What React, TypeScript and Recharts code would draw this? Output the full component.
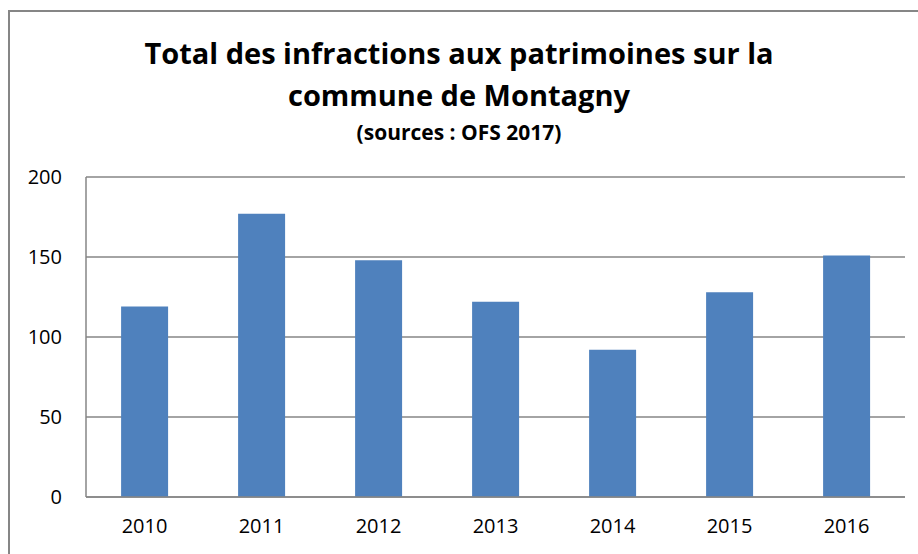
import React from 'react';
import { BarChart, Bar, XAxis, YAxis, CartesianGrid } from 'recharts';

// values
const years = ['2010', '2011', '2012', '2013', '2014', '2015', '2016'];
const totals = [119, 177, 148, 122, 92, 128, 151];
const yTicks = [0, 50, 100, 150, 200];

const data = years.map((year, i) => ({ year, total: totals[i] }));

const FONT = '"Open Sans", Roboto, sans-serif';
const GRID = '#868686';

export default function App() {
  return (
    <div style={{ position: 'absolute', left: 0, top: 0, width: 918, height: 554, background: '#fff', overflow: 'hidden', fontFamily: FONT }}>
      {/* outer frame, only left and top edges show in the crop */}
      <div style={{ position: 'absolute', left: 8, top: 10, width: 920, height: 560, borderLeft: `2px solid ${GRID}`, borderTop: `2px solid ${GRID}` }} />

      <div style={{ position: 'absolute', left: 0, top: 0, width: 918, textAlign: 'center', color: '#000' }}>
        <div style={{ position: 'absolute', top: 35, width: 918, fontSize: 29, fontWeight: 700, lineHeight: '36px' }}>
          Total des infractions aux patrimoines sur la
        </div>
        <div style={{ position: 'absolute', top: 77, width: 918, fontSize: 29, fontWeight: 700, lineHeight: '36px' }}>
          commune de Montagny
        </div>
        <div style={{ position: 'absolute', top: 119, width: 918, fontSize: 21, fontWeight: 700, lineHeight: '26px' }}>
          (sources : OFS 2017)
        </div>
      </div>

      <div style={{ position: 'absolute', left: 0, top: 0 }}>
        <BarChart width={918} height={554} data={data} margin={{ top: 177, right: 13, bottom: 0, left: 0 }} barCategoryGap="30%">
          <CartesianGrid vertical={false} stroke={GRID} strokeWidth={1.5} />
          <XAxis
            dataKey="year"
            height={57}
            axisLine={{ stroke: GRID, strokeWidth: 1.5 }}
            tickLine={false}
            tickSize={0}
            tickMargin={22}
            tick={{ fill: '#000', fontSize: 20, fontFamily: FONT }}
          />
          <YAxis
            width={86}
            domain={[0, 200]}
            ticks={yTicks}
            axisLine={{ stroke: GRID, strokeWidth: 1.5 }}
            tickLine={false}
            tickSize={0}
            tickMargin={24}
            tick={{ fill: '#000', fontSize: 20, fontFamily: FONT }}
          />
          <Bar dataKey="total" fill="#4f81bd" isAnimationActive={false} />
        </BarChart>
      </div>
    </div>
  );
}
